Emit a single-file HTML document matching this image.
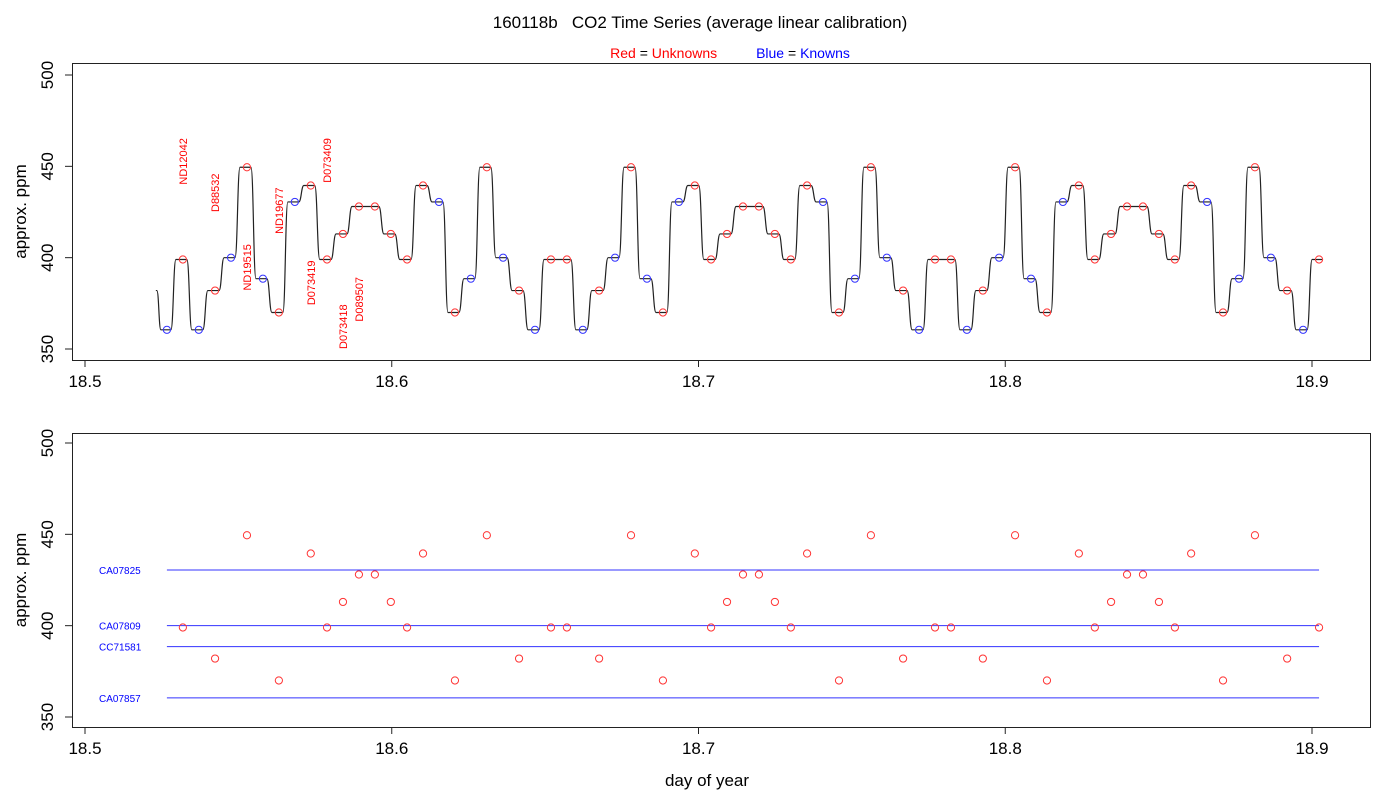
<!DOCTYPE html>
<html><head><meta charset="utf-8"><style>
body{margin:0;background:#fff}
svg{display:block;font-family:"Liberation Sans",sans-serif}
</style></head><body>
<svg id="c" width="1400" height="800">
<text x="700" y="28" text-anchor="middle" font-size="17" xml:space="preserve">160118b   CO2 Time Series (average linear calibration)</text>
<text x="730" y="58" text-anchor="middle" font-size="14" xml:space="preserve"><tspan fill="#f00">Red</tspan><tspan fill="#000"> = </tspan><tspan fill="#f00">Unknowns</tspan>          <tspan fill="#00f">Blue</tspan><tspan fill="#000"> = </tspan><tspan fill="#00f">Knowns</tspan></text>
<g id="topPanel"></g>
<g id="botPanel"></g>
<text x="707" y="786" text-anchor="middle" font-size="17">day of year</text>
</svg>
<script>
const times=[18.5267,18.5319,18.5371,18.5424,18.5476,18.5528,18.5580,18.5632,18.5684,18.5736,18.5789,18.5841,18.5893,18.5945,18.5997,18.6050,18.6102,18.6154,18.6206,18.6258,18.6310,18.6363,18.6415,18.6467,18.6519,18.6571,18.6623,18.6676,18.6728,18.6780,18.6832,18.6884,18.6936,18.6988,18.7041,18.7093,18.7145,18.7197,18.7249,18.7301,18.7354,18.7406,18.7458,18.7510,18.7562,18.7614,18.7667,18.7719,18.7771,18.7823,18.7875,18.7927,18.7980,18.8032,18.8084,18.8136,18.8188,18.8240,18.8292,18.8345,18.8397,18.8449,18.8501,18.8553,18.8606,18.8658,18.8710,18.8762,18.8814,18.8866,18.8919,18.8971,18.9023];
const ppm=[360.5,399,360.5,382,400,449.5,388.5,370,430.5,439.5,399,413,428,428,413,399,439.5,430.5,370,388.5,449.5,400,382,360.5,399,399,360.5,382,400,449.5,388.5,370,430.5,439.5,399,413,428,428,413,399,439.5,430.5,370,388.5,449.5,400,382,360.5,399,399,360.5,382,400,449.5,388.5,370,430.5,439.5,399,413,428,428,413,399,439.5,430.5,370,388.5,449.5,400,382,360.5,399];
const isKnown=[1,0,1,0,1,0,1,0,1,0,0,0,0,0,0,0,0,1,0,1,0,1,0,1,0,0,1,0,1,0,1,0,1,0,0,0,0,0,0,0,0,1,0,1,0,1,0,1,0,0,1,0,1,0,1,0,1,0,0,0,0,0,0,0,0,1,0,1,0,1,0,1,0];
const startTime=18.5231, startPpm=382;
const xTicks=[18.5,18.6,18.7,18.8,18.9];
const yTicks=[350,400,450,500];
const knownNames=["CA07825","CA07809","CC71581","CA07857"];
const knownLevels=[430.5,400,388.5,360.5];
const unkNames=["ND12042","D88532","ND19515","ND19677","D073419","D073409","D073418","D089507"];
const unkNameTimes=[18.5319,18.5424,18.5528,18.5632,18.5736,18.5789,18.5841,18.5893];
const unkNamePpm=[440,425,382,413,374,441,350,365];

const NS="http://www.w3.org/2000/svg";
const X=v=>85+(v-18.5)*3067.5;
function mk(p,tag,a,txt){const e=document.createElementNS(NS,tag);for(const k in a)e.setAttribute(k,a[k]);if(txt!=null)e.textContent=txt;p.appendChild(e);return e;}
function panel(g,ptop,pbottom,y500,y350){
  const Y=v=>y350+(v-350)*(y500-y350)/150;
  const r=mk(g,'rect',{x:72.5,y:ptop+.5,width:1298,height:pbottom-ptop,fill:'none',stroke:'#222','stroke-width':1});
  
  
  xTicks.forEach(t=>{
    const l=mk(g,'line',{x1:X(t),x2:X(t),y1:pbottom,y2:pbottom+7,stroke:'#222'});
    
    
    const s=mk(g,'text',{x:X(t),y:pbottom+27,'text-anchor':'middle','font-size':17},t.toFixed(1));
    
    
  });
  yTicks.forEach(t=>{
    const l=mk(g,'line',{x1:65,x2:72,y1:Y(t),y2:Y(t),stroke:'#222'});
    
    
    const s=mk(g,'text',{x:0,y:0,'text-anchor':'middle','font-size':17,transform:`translate(53,${Y(t)}) rotate(-90)`},t);
    
    
  });
  const yt=mk(g,'text',{x:0,y:0,'text-anchor':'middle','font-size':17,transform:`translate(26,${(ptop+pbottom)/2}) rotate(-90)`},'approx. ppm');
  
  
  return Y;
}
const topG=document.getElementById('topPanel'), botG=document.getElementById('botPanel');
const Yt=panel(topG,63,360,75,349);
let x0=X(startTime), y0=Yt(startPpm);
let d=`M${x0},${y0} L${x0+1},${y0} C${x0+3},${y0} ${x0+3},${Yt(ppm[0])} ${x0+5},${Yt(ppm[0])}`;
for(let i=0;i<times.length-1;i++){
  const xa=X(times[i])+4, ya=Yt(ppm[i]), yb=Yt(ppm[i+1]);
  d+=` L${xa},${ya} C${xa+2.5},${ya} ${xa+2.5},${yb} ${xa+5},${yb}`;
}
d+=` L${X(times[times.length-1])+3},${Yt(ppm[ppm.length-1])}`;
const sl=mk(topG,'path',{d:d,fill:'none',stroke:'#222','stroke-width':1.2});


times.forEach((t,i)=>{
  const c=mk(topG,'circle',{cx:X(t),cy:Yt(ppm[i]),r:3.6,fill:'none',stroke:isKnown[i]?'#33f':'#f33','stroke-width':1});
  
  
});
unkNames.forEach((n,i)=>{
  const tx=mk(topG,'text',{x:0,y:0,fill:'#f00','font-size':11,transform:`translate(${X(unkNameTimes[i])+4},${Yt(unkNamePpm[i])}) rotate(-90)`},n);
  
  
});
const Yb=panel(botG,433,727,443,717);
knownLevels.forEach((v,i)=>{
  const l=mk(botG,'line',{x1:X(times[0]),x2:X(times[times.length-1]),y1:Yb(v),y2:Yb(v),stroke:'#33f','stroke-width':1});
  
  
  const s=mk(botG,'text',{x:99,y:Yb(v)+4,fill:'#00f','font-size':10},knownNames[i]);
  
  
});
times.forEach((t,i)=>{
  if(isKnown[i])return;
  const c=mk(botG,'circle',{cx:X(t),cy:Yb(ppm[i]),r:3.6,fill:'none',stroke:'#f33','stroke-width':1});
  
  
});
</script>
</body></html>
